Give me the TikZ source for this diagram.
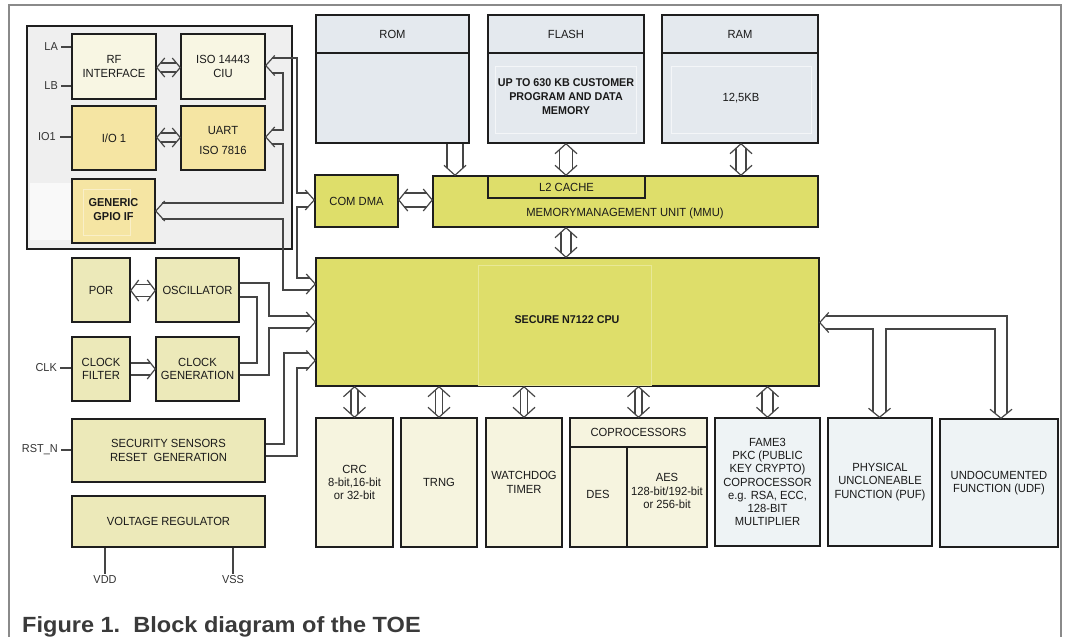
\documentclass[tikz,border=0pt]{standalone}
\usepackage{fontspec}
\setmainfont{Liberation Sans}[FakeStretch=0.95]
\newfontfamily\capfont{Liberation Sans}[FakeStretch=1.07]
\usetikzlibrary{calc}
\definecolor{boxline}{HTML}{1E1E1E}
\definecolor{connc}{HTML}{454545}
\definecolor{txtc}{HTML}{1A1A1A}
\definecolor{lblc}{HTML}{333333}
\definecolor{capc}{HTML}{3A3A3A}
\definecolor{framec}{HTML}{8A8A8A}
\definecolor{grayblk}{HTML}{EFEFEF}
\definecolor{creamA}{HTML}{F8F6E3}
\definecolor{yelA}{HTML}{F5E5A3}
\definecolor{khaki}{HTML}{ECE9B9}
\definecolor{olive}{HTML}{DEDE6A}
\definecolor{creamB}{HTML}{F6F4DF}
\definecolor{blueA}{HTML}{EEF3F5}
\definecolor{memc}{HTML}{E4E9EE}
\tikzset{
  box/.style={draw=boxline, line width=1.5pt, align=center, inner sep=1pt,
    font=\fontsize{11.8}{13.3}\selectfont, text=txtc},
  conn/.style={draw=connc, line width=1.2pt, line join=miter},
  lbl/.style={font=\fontsize{11.5}{13}\selectfont, text=lblc, inner sep=1pt},
  txt/.style={font=\fontsize{11.8}{13.3}\selectfont, text=txtc, align=center, inner sep=0pt},
}
% vertical double-headed hollow arrow: top, bottom, half gap, half width, length
\newcommand\dblV[5]{%
  \pgfmathsetmacro\hdep{#5*#3/#4}%
  \draw[conn] ([shift={(-#3pt,-\hdep pt)}]#1) -- ([shift={(-#3pt,\hdep pt)}]#2);
  \draw[conn] ([shift={(#3pt,-\hdep pt)}]#1) -- ([shift={(#3pt,\hdep pt)}]#2);
  \draw[conn] ([shift={(-#4pt,-#5pt)}]#1) -- (#1) -- ([shift={(#4pt,-#5pt)}]#1);
  \draw[conn] ([shift={(-#4pt,#5pt)}]#2) -- (#2) -- ([shift={(#4pt,#5pt)}]#2);
}
\newcommand\oneVdown[5]{%
  \pgfmathsetmacro\hdep{#5*#3/#4}%
  \draw[conn] ([shift={(-#3pt,0pt)}]#1) -- ([shift={(-#3pt,\hdep pt)}]#2);
  \draw[conn] ([shift={(#3pt,0pt)}]#1) -- ([shift={(#3pt,\hdep pt)}]#2);
  \draw[conn] ([shift={(-#4pt,#5pt)}]#2) -- (#2) -- ([shift={(#4pt,#5pt)}]#2);
}
\newcommand\dblH[5]{%
  \pgfmathsetmacro\hdep{#5*#3/#4}%
  \draw[conn] ([shift={(\hdep pt,#3pt)}]#1) -- ([shift={(-\hdep pt,#3pt)}]#2);
  \draw[conn] ([shift={(\hdep pt,-#3pt)}]#1) -- ([shift={(-\hdep pt,-#3pt)}]#2);
  \draw[conn] ([shift={(#5pt,#4pt)}]#1) -- (#1) -- ([shift={(#5pt,-#4pt)}]#1);
  \draw[conn] ([shift={(-#5pt,#4pt)}]#2) -- (#2) -- ([shift={(-#5pt,-#4pt)}]#2);
}
\newcommand\oneHright[5]{%
  \pgfmathsetmacro\hdep{#5*#3/#4}%
  \draw[conn] ([shift={(0pt,#3pt)}]#1) -- ([shift={(-\hdep pt,#3pt)}]#2);
  \draw[conn] ([shift={(0pt,-#3pt)}]#1) -- ([shift={(-\hdep pt,-#3pt)}]#2);
  \draw[conn] ([shift={(-#5pt,#4pt)}]#2) -- (#2) -- ([shift={(-#5pt,-#4pt)}]#2);
}
% chevron: point, angle, half width, length
\newcommand\chev[4]{%
  \draw[conn, shift={(#1)}, rotate=#2] (-#4pt,#3pt) -- (0pt,0pt) -- (-#4pt,-#3pt);
}
\begin{document}
\begin{tikzpicture}[x=1pt,y=-1pt]
\useasboundingbox (0,0) rectangle (1066,637);
\fill[white] (0,0) rectangle (1066,637);
\draw[framec, line width=1.1pt] (9,637) -- (9,5) -- (1061,5) -- (1061,637);

% ---------- left interface block
\node[draw=boxline, line width=2.2pt, fill=grayblk, minimum width=265pt, minimum height=223pt, inner sep=0] (leftblk) at (159.5,137.5) {};
\fill[white!60!grayblk] (30,183) rectangle (72,240);
\node[box, fill=creamA, minimum width=84pt, minimum height=65pt] (rf) at (114,66.5) {RF\\INTERFACE};
\node[box, fill=creamA, minimum width=84pt, minimum height=65pt] (ciu) at (223,66.5) {ISO 14443\\CIU};
\node[box, fill=yelA, minimum width=84pt, minimum height=64pt] (io) at (114,138) {I/O 1};
\node[box, fill=yelA, minimum width=84pt, minimum height=64pt] (uart) at (223,138) {};
\node[txt] (uartT) at (223,140.5) {UART\\[6pt]ISO 7816};
\node[box, fill=yelA, minimum width=83pt, minimum height=64pt] (gpio) at (113.5,211) {};
\draw[white!40!yelA, line width=0.6pt] (83,189) rectangle (130,235);
\node[txt, font=\bfseries\fontsize{11.5}{14}\selectfont] (gpioT) at (113.5,210) {GENERIC\\GPIO IF};

\node[lbl, anchor=east] (la) at (59,47) {LA};
\node[lbl, anchor=east] (lb) at (59,86) {LB};
\node[lbl, anchor=east] (io1) at (57,137) {IO1};
\draw[conn] (la.east) ++(2,0) -- (rf.west |- la.east);
\draw[conn] (lb.east) ++(2,0) -- (rf.west |- lb.east);
\draw[conn] (io1.east) ++(3,0) -- (io.west |- io1.east);

% ---------- clock / reset blocks
\node[box, fill=khaki, minimum width=58pt, minimum height=64pt] (por) at (101,290) {POR};
\node[box, fill=khaki, minimum width=83pt, minimum height=64pt] (osc) at (197.5,290) {OSCILLATOR};
\node[box, fill=khaki, minimum width=58pt, minimum height=64pt] (clkf) at (101,369) {CLOCK\\FILTER};
\node[box, fill=khaki, minimum width=83pt, minimum height=64pt] (clkg) at (197.5,369) {CLOCK\\GENERATION};
\node[box, fill=khaki, minimum width=193pt, minimum height=63pt] (sec) at (168.5,450.5) {SECURITY SENSORS\\RESET\ \ GENERATION};
\node[box, fill=khaki, minimum width=193pt, minimum height=51pt] (volt) at (168.5,521.5) {VOLTAGE REGULATOR};

\node[lbl, anchor=east] (clk) at (58,368) {CLK};
\node[lbl, anchor=east] (rst) at (59,450) {RST\_N};
\draw[conn] (clk.east) ++(2,0) -- (clkf.west |- clk.east);
\draw[conn] (rst.east) ++(2,0) -- (sec.west |- rst.east);
\node[lbl, anchor=north] (vdd) at (105,574) {VDD};
\node[lbl, anchor=north] (vss) at (233,574) {VSS};
\draw[conn] (volt.south -| vdd.north) -- (vdd.north);
\draw[conn] (volt.south -| vss.north) -- (vss.north);

% ---------- memories
\node[box, fill=memc, minimum width=153pt, minimum height=128pt] (rom) at (392.5,79) {};
\node[box, fill=memc, minimum width=156pt, minimum height=128pt] (flash) at (566,79) {};
\node[box, fill=memc, minimum width=156pt, minimum height=128pt] (ram) at (740,79) {};
\draw[boxline, line width=1.3pt] (rom.west |- 0,53) -- (rom.east |- 0,53);
\draw[boxline, line width=1.3pt] (flash.west |- 0,53) -- (flash.east |- 0,53);
\draw[boxline, line width=1.3pt] (ram.west |- 0,53) -- (ram.east |- 0,53);
\draw[white!60!memc, line width=0.8pt] (495,66) rectangle (636,133);
\draw[white!60!memc, line width=0.8pt] (671,66) rectangle (811,133);
\node[txt] (romT) at (392.5,34) {ROM};
\node[txt] (flashH) at (566,34) {FLASH};
\node[txt] (ramH) at (740,34) {RAM};
\node[txt, font=\bfseries\fontsize{11.3}{14}\selectfont] (flashT) at (566,97) {UP TO 630 KB CUSTOMER\\PROGRAM AND DATA\\MEMORY};
\node[txt] (ramT) at (741,98) {12,5KB};

% ---------- MMU, DMA, CPU
\node[box, fill=olive, minimum width=83pt, minimum height=52pt] (comdma) at (356.5,201) {COM DMA};
\node[box, fill=olive, minimum width=385pt, minimum height=51pt] (mmu) at (625.5,201.5) {};
\node[box, fill=olive, line width=1.2pt, minimum width=157pt, minimum height=22pt] (l2) at (566.5,187) {L2 CACHE};
\node[txt] (mmuT) at (625,213) {MEMORYMANAGEMENT UNIT (MMU)};
\node[box, fill=olive, minimum width=503pt, minimum height=128pt] (cpu) at (567.5,322) {};
\draw[white!30!olive, line width=0.7pt] (478,265) rectangle (651,385);
\node[txt, font=\bfseries\fontsize{11.3}{13}\selectfont] (cpuT) at (567,320) {SECURE N7122 CPU};

% ---------- bottom row
\node[box, fill=creamB, minimum width=77pt, minimum height=129pt] (crc) at (354.5,482.5) {CRC\\8-bit,16-bit\\or 32-bit};
\node[box, fill=creamB, minimum width=76pt, minimum height=129pt] (trng) at (439,482.5) {TRNG};
\node[box, fill=creamB, minimum width=76pt, minimum height=129pt] (wdt) at (524,482.5) {WATCHDOG\\TIMER};
\node[box, fill=creamB, minimum width=137pt, minimum height=129pt] (cop) at (638.5,482.5) {};
\draw[boxline, line width=1.3pt] (cop.west |- 0,447) -- (cop.east |- 0,447);
\draw[boxline, line width=1.3pt] (627,447) -- (627,0 |- cop.south);
\node[txt] (copT) at (638.5,432) {COPROCESSORS};
\node[txt] (desT) at (598,494) {DES};
\node[txt] (aesT) at (667,491) {AES\\128-bit/192-bit\\or 256-bit};
\node[box, fill=blueA, minimum width=105pt, minimum height=128pt] (fame) at (767.5,482) {FAME3\\PKC (PUBLIC\\KEY CRYPTO)\\COPROCESSOR\\e.g. RSA, ECC,\\128-BIT\\MULTIPLIER};
\node[box, fill=blueA, minimum width=104pt, minimum height=128pt] (puf) at (880,482) {PHYSICAL\\UNCLONEABLE\\FUNCTION (PUF)};
\node[box, fill=blueA, minimum width=118pt, minimum height=128pt] (udf) at (999,483) {UNDOCUMENTED\\FUNCTION (UDF)};

% ---------- simple hollow arrows
\coordinate (rfE) at (rf.east |- 0,67.5);  \coordinate (ciuW) at (ciu.west |- 0,67.5);
\dblH{rfE}{ciuW}{4.5}{9.5}{8}
\coordinate (ioE) at (io.east |- 0,137.5); \coordinate (uartW) at (uart.west |- 0,137.5);
\dblH{ioE}{uartW}{4.5}{9.5}{8}
\coordinate (porE) at (por.east |- 0,290.5); \coordinate (oscW) at (osc.west |- 0,290.5);
\dblH{porE}{oscW}{6}{10.5}{8}
\coordinate (dmaE) at (comdma.east |- 0,200); \coordinate (mmuW) at (mmu.west |- 0,200);
\dblH{dmaE}{mmuW}{7}{11}{9}
\coordinate (clkfE) at (clkf.east |- 0,369); \coordinate (clkgW) at (clkg.west |- 0,369);
\oneHright{clkfE}{clkgW}{6}{10}{8}

\coordinate (romS) at (455,0 |- rom.south); \coordinate (mmuN1) at (455,0 |- mmu.north);
\oneVdown{romS}{mmuN1}{8}{11}{10}
\coordinate (flashS) at (566,0 |- flash.south); \coordinate (mmuN2) at (566,0 |- mmu.north);
\dblV{flashS}{mmuN2}{6.5}{11}{10}
\coordinate (ramS) at (741,0 |- ram.south); \coordinate (mmuN3) at (741,0 |- mmu.north);
\dblV{ramS}{mmuN3}{5}{11}{10}
\coordinate (mmuS) at (566,0 |- mmu.south); \coordinate (cpuN) at (566,0 |- cpu.north);
\dblV{mmuS}{cpuN}{5}{11}{10}

\coordinate (cpuS1) at (crc.north |- cpu.south);
\dblV{cpuS1}{crc.north}{3.5}{11}{10}
\coordinate (cpuS2) at (trng.north |- cpu.south);
\dblV{cpuS2}{trng.north}{3.5}{11}{10}
\coordinate (cpuS3) at (wdt.north |- cpu.south);
\dblV{cpuS3}{wdt.north}{3.5}{11}{10}
\coordinate (cpuS4) at (cop.north |- cpu.south);
\dblV{cpuS4}{cop.north}{3.5}{11}{10}
\coordinate (cpuS5) at (fame.north |- cpu.south);
\dblV{cpuS5}{fame.north}{5.5}{11}{10}

% ---------- interface bus channel (left)
\coordinate (chCIU) at (ciu.east |- 0,65.5);
\coordinate (chUART) at (uart.east |- 0,137);
\coordinate (chGPIO) at (gpio.east |- 0,211);
\coordinate (chDMA) at (comdma.west |- 0,200);
\coordinate (chCPU1) at (cpu.west |- 0,284);
\chev{chCIU}{180}{10}{9}
\chev{chUART}{180}{10}{9}
\chev{chGPIO}{180}{10}{9}
\chev{chDMA}{0}{10}{9}
\chev{chCPU1}{0}{10}{9}
\draw[conn] (ciu.east |- 0,58) ++(6,0) -- (297,58) -- (297,193) -- ($(comdma.west |- 0,193)+(-6,0)$);
\draw[conn] (ciu.east |- 0,73) ++(6,0) -- (283,73) -- (283,130) -- ($(uart.east |- 0,130)+(6,0)$);
\draw[conn] (uart.east |- 0,144) ++(6,0) -- (283,144) -- (283,203) -- ($(gpio.east |- 0,203)+(6,0)$);
\draw[conn] (gpio.east |- 0,219) ++(6,0) -- (283,219) -- (283,290) -- ($(cpu.west |- 0,290)+(-5,0)$);
\draw[conn] (comdma.west |- 0,207) ++(-6,0) -- (297,207) -- (297,278) -- ($(cpu.west |- 0,278)+(-5,0)$);

% ---------- clock channel
\coordinate (chCPU2) at (cpu.west |- 0,322);
\chev{chCPU2}{0}{10}{9}
\draw[conn] (osc.east |- 0,283) -- (269,283) -- (269,316) -- ($(cpu.west |- 0,316)+(-5,0)$);
\draw[conn] (osc.east |- 0,297) -- (257,297) -- (257,363) -- (clkg.east |- 0,363);
\draw[conn] (clkg.east |- 0,375) -- (269,375) -- (269,328) -- ($(cpu.west |- 0,328)+(-5,0)$);

% ---------- security channel
\coordinate (chCPU3) at (cpu.west |- 0,360.5);
\chev{chCPU3}{0}{10}{9}
\draw[conn] (sec.east |- 0,444) -- (284,444) -- (284,353) -- ($(cpu.west |- 0,353)+(-6,0)$);
\draw[conn] (sec.east |- 0,456) -- (297,456) -- (297,368) -- ($(cpu.west |- 0,368)+(-6,0)$);

% ---------- PUF / UDF channel
\coordinate (chCPU4) at (cpu.east |- 0,322.5);
\coordinate (chPUF) at (879.5,0 |- puf.north);
\coordinate (chUDF) at (1001,0 |- udf.north);
\chev{chCPU4}{180}{10}{9}
\chev{chPUF}{270}{11}{9}
\chev{chUDF}{270}{11}{9}
\draw[conn] ($(cpu.east |- 0,316)+(6,0)$) -- (1007,316) -- ($(1007,0 |- udf.north)+(0,-5.5)$);
\draw[conn] ($(cpu.east |- 0,329)+(6,0)$) -- (873,329) -- ($(873,0 |- puf.north)+(0,-5.5)$);
\draw[conn] ($(886,0 |- puf.north)+(0,-5.5)$) -- (886,329) -- (995,329) -- ($(995,0 |- udf.north)+(0,-5.5)$);

% ---------- caption
\node[anchor=base west, inner sep=0pt, text=capc, font=\capfont\bfseries\fontsize{22}{25}\selectfont] (cap) at (22,632) {Figure 1.\ \ Block diagram of the TOE};
\end{tikzpicture}
\end{document}
